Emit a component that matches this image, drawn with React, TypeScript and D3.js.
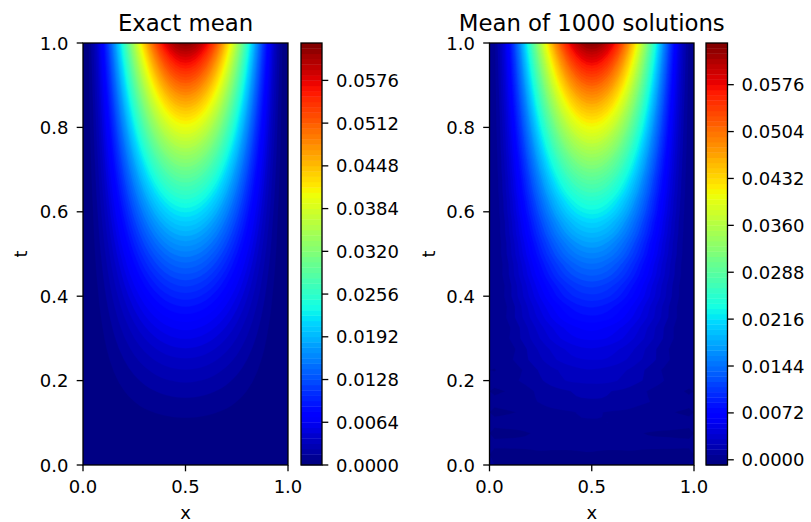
import React from "react";
import * as d3 from "d3";

// ---------- data ----------
const xGrid = [0, 0.025, 0.05, 0.075, 0.1, 0.125, 0.15, 0.175, 0.2, 0.225, 0.25, 0.275, 0.3, 0.325, 0.35, 0.375, 0.4, 0.425, 0.45, 0.475, 0.5,
  0.525, 0.55, 0.575, 0.6, 0.625, 0.65, 0.675, 0.7, 0.725, 0.75, 0.775, 0.8, 0.825, 0.85, 0.875, 0.9, 0.925, 0.95, 0.975, 1];
const tGrid = [0, 0.025, 0.05, 0.075, 0.1, 0.125, 0.15, 0.175, 0.2, 0.225, 0.25, 0.275, 0.3, 0.325, 0.35, 0.375, 0.4, 0.425, 0.45, 0.475, 0.5,
  0.525, 0.55, 0.575, 0.6, 0.625, 0.65, 0.675, 0.7, 0.725, 0.75, 0.775, 0.8, 0.825, 0.85, 0.875, 0.9, 0.925, 0.95, 0.975, 1];
// relative profile across x (1 at x = 0.5)
const xProfile = [0, 0.0095, 0.0361, 0.077, 0.1296, 0.1914, 0.2601, 0.3335, 0.4096, 0.4865, 0.5625, 0.636, 0.7056, 0.77, 0.8281, 0.8789, 0.9216, 0.9555, 0.9801, 0.995, 1,
  0.995, 0.9801, 0.9555, 0.9216, 0.8789, 0.8281, 0.77, 0.7056, 0.636, 0.5625, 0.4865, 0.4096, 0.3335, 0.2601, 0.1914, 0.1296, 0.077, 0.0361, 0.0095, 0];
// value at x = 0.5 for each t, exact mean
const exactCenter = [0, 0.00004, 0.00016, 0.00035, 0.00063, 0.00098, 0.00141, 0.00191, 0.0025, 0.00316, 0.00391, 0.00473, 0.00563, 0.0066, 0.00766, 0.00879, 0.01, 0.01129, 0.01266, 0.0141, 0.01563,
  0.01723, 0.01891, 0.02066, 0.0225, 0.02441, 0.02641, 0.02848, 0.03063, 0.03285, 0.03516, 0.03754, 0.04, 0.04254, 0.04516, 0.04785, 0.05063, 0.05348, 0.05641, 0.05941, 0.0625];
// value at x = 0.5 for each t, mean of 1000 solutions
const mcCenter = [0, 0.00004, 0.00017, 0.00036, 0.00064, 0.00099, 0.00143, 0.00194, 0.00253, 0.0032, 0.00396, 0.0048, 0.00571, 0.00669, 0.00777, 0.00891, 0.01014, 0.01145, 0.01284, 0.0143, 0.01585,
  0.01747, 0.01917, 0.02095, 0.02282, 0.02475, 0.02678, 0.02888, 0.03106, 0.03331, 0.03565, 0.03807, 0.04056, 0.04314, 0.04579, 0.04852, 0.05134, 0.05423, 0.0572, 0.06024, 0.06338];
// sampling wobble of the Monte Carlo mean per t row, and its spread across x
const mcWobble = [0, -0.0003, 0.0002, -0.00025, 0.0002, -0.0002, 0.00015, -0.0002, 0.0002, -0.00015, 0.00015, -0.00015, 0.0001, -0.00012, 0.00012, -0.0001, 0.0001, -0.0001, 0.00008, -0.00008, 0.00008,
  -0.00006, 0.00006, -0.00006, 0.00005, -0.00005, 0.00004, -0.00004, 0.00004, -0.00003, 0.00003, -0.00003, 0.00002, -0.00002, 0.00002, -0.00001, 0.00001, 0, 0, 0, 0];
const wobbleShape = [0, 0.3, 0.55, 0.75, 0.9, 1, 0.95, 0.8, 0.6, 0.45, 0.4, 0.5, 0.7, 0.85, 0.95, 1, 0.9, 0.7, 0.5, 0.4, 0.45,
  0.6, 0.8, 0.95, 1, 0.9, 0.75, 0.6, 0.55, 0.65, 0.8, 0.95, 1, 0.95, 0.85, 0.7, 0.6, 0.5, 0.35, 0.2, 0];

const exactLevelStart = 0;
const exactLevelCount = 80;
const mcLevelStart = -0.0008;
const mcLevelCount = 82;
const levelStep = 0.0008;

const exactCbTicks = ["0.0000", "0.0064", "0.0128", "0.0192", "0.0256", "0.0320", "0.0384", "0.0448", "0.0512", "0.0576"];
const mcCbTicks = ["0.0000", "0.0072", "0.0144", "0.0216", "0.0288", "0.0360", "0.0432", "0.0504", "0.0576"];
const xTicks = ["0.0", "0.5", "1.0"];
const tTicks = ["0.0", "0.2", "0.4", "0.6", "0.8", "1.0"];

// ---------- helpers ----------
const jetR = d3.scaleLinear().domain([0, 0.35, 0.66, 0.89, 1]).range([0, 0, 1, 1, 0.5]).clamp(true);
const jetG = d3.scaleLinear().domain([0, 0.125, 0.375, 0.64, 0.91, 1]).range([0, 0, 1, 1, 0, 0]).clamp(true);
const jetB = d3.scaleLinear().domain([0, 0.11, 0.34, 0.65, 1]).range([0.5, 1, 1, 0, 0]).clamp(true);
function jet(v: number): string {
  const q = Math.min(255, Math.floor(v * 256)) / 255;
  return d3.rgb(jetR(q) * 255, jetG(q) * 255, jetB(q) * 255).formatHex();
}

const FONT = "DejaVu Sans, sans-serif";
const TOP = 43;
const BOTTOM = 465;

type PanelProps = {
  id: string;
  x0: number;
  w: number;
  cbX: number;
  cbW: number;
  title: string;
  values: number[];
  levels: number[];
  cbTicks: string[];
  tLabelX: number;
};

function Panel({ id, x0, w, cbX, cbW, title, values, levels, cbTicks, tLabelX }: PanelProps) {
  const nx = xGrid.length;
  const nt = tGrid.length;
  const xScale = d3.scaleLinear().domain([0, 1]).range([x0, x0 + w]);
  const yScale = d3.scaleLinear().domain([0, 1]).range([BOTTOM, TOP]);
  const dx = xGrid[1] - xGrid[0];
  const dt = tGrid[1] - tGrid[0];
  const lmin = levels[0];
  const lmax = levels[levels.length - 1];
  const bandColor = (i: number) => jet(((levels[i] + levels[i + 1]) / 2 - lmin) / (lmax - lmin));

  const contours = d3.contours().size([nx, nt]).smooth(true).thresholds(levels.slice(0, -1))(values);
  const proj = d3.geoTransform({
    point(px: number, py: number) {
      (this as any).stream.point(xScale(xGrid[0] + (px - 0.5) * dx), yScale(tGrid[0] + (py - 0.5) * dt));
    },
  });
  const path = d3.geoPath(proj);

  const cbScale = d3.scaleLinear().domain([lmin, lmax]).range([BOTTOM, TOP]);

  return (
    <g>
      <defs>
        <clipPath id={`clip-${id}`}>
          <rect x={x0} y={TOP} width={w} height={BOTTOM - TOP} />
        </clipPath>
      </defs>
      <g clipPath={`url(#clip-${id})`}>
        <rect x={x0} y={TOP} width={w} height={BOTTOM - TOP} fill={bandColor(0)} />
        {contours.map((c, i) => (
          <path key={i} d={path(c as any) || ""} fill={bandColor(i)} stroke={bandColor(i)} strokeWidth={0.3} />
        ))}
      </g>
      <rect x={x0} y={TOP} width={w} height={BOTTOM - TOP} fill="none" stroke="#000" strokeWidth={1.3} />
      {xTicks.map((lab) => {
        const xx = xScale(+lab);
        return (
          <g key={lab}>
            <line x1={xx} x2={xx} y1={BOTTOM} y2={BOTTOM + 6.3} stroke="#000" strokeWidth={1.3} />
            <text x={xx} y={493} textAnchor="middle" fontSize={18} fontFamily={FONT}>{lab}</text>
          </g>
        );
      })}
      {tTicks.map((lab) => {
        const yy = yScale(+lab);
        return (
          <g key={lab}>
            <line x1={x0 - 6.3} x2={x0} y1={yy} y2={yy} stroke="#000" strokeWidth={1.3} />
            <text x={x0 - 14.5} y={yy + 6.5} textAnchor="end" fontSize={18} fontFamily={FONT}>{lab}</text>
          </g>
        );
      })}
      <text x={x0 + w / 2} y={519} textAnchor="middle" fontSize={18} fontFamily={FONT}>x</text>
      <text transform={`translate(${tLabelX},${(TOP + BOTTOM) / 2}) rotate(-90)`} textAnchor="middle" fontSize={18} fontFamily={FONT}>t</text>
      <text x={x0 + w / 2} y={30.5} textAnchor="middle" fontSize={22.8} fontFamily={FONT}>{title}</text>
      {levels.slice(0, -1).map((l, i) => (
        <rect key={i} x={cbX} width={cbW} y={cbScale(levels[i + 1])} height={cbScale(l) - cbScale(levels[i + 1]) + 0.4} fill={bandColor(i)} />
      ))}
      <rect x={cbX} y={TOP} width={cbW} height={BOTTOM - TOP} fill="none" stroke="#000" strokeWidth={1.3} />
      {cbTicks.map((lab) => {
        const yy = cbScale(+lab);
        return (
          <g key={lab}>
            <line x1={cbX + cbW} x2={cbX + cbW + 6.3} y1={yy} y2={yy} stroke="#000" strokeWidth={1.3} />
            <text x={cbX + cbW + 14} y={yy + 6.5} fontSize={18} fontFamily={FONT}>{lab}</text>
          </g>
        );
      })}
    </g>
  );
}

export default function App() {
  const exactValues: number[] = [];
  const mcValues: number[] = [];
  tGrid.forEach((_, j) => {
    xGrid.forEach((__, i) => {
      exactValues.push(exactCenter[j] * xProfile[i]);
      mcValues.push(mcCenter[j] * xProfile[i] + mcWobble[j] * wobbleShape[i]);
    });
  });
  const exactLevels = d3.range(exactLevelCount).map((k) => +(exactLevelStart + k * levelStep).toFixed(6));
  const mcLevels = d3.range(mcLevelCount).map((k) => +(mcLevelStart + k * levelStep).toFixed(6));

  return (
    <svg width={811} height={522} style={{ display: "block", position: "absolute", left: 0, top: 0, background: "#fff" }}>
      <rect width={811} height={522} fill="#fff" />
      <Panel id="exact" x0={83} w={205} cbX={301} cbW={21} title="Exact mean" values={exactValues} levels={exactLevels} cbTicks={exactCbTicks} tLabelX={26.5} />
      <Panel id="mc" x0={489.5} w={204.5} cbX={706} cbW={21.5} title="Mean of 1000 solutions" values={mcValues} levels={mcLevels} cbTicks={mcCbTicks} tLabelX={434.5} />
    </svg>
  );
}
